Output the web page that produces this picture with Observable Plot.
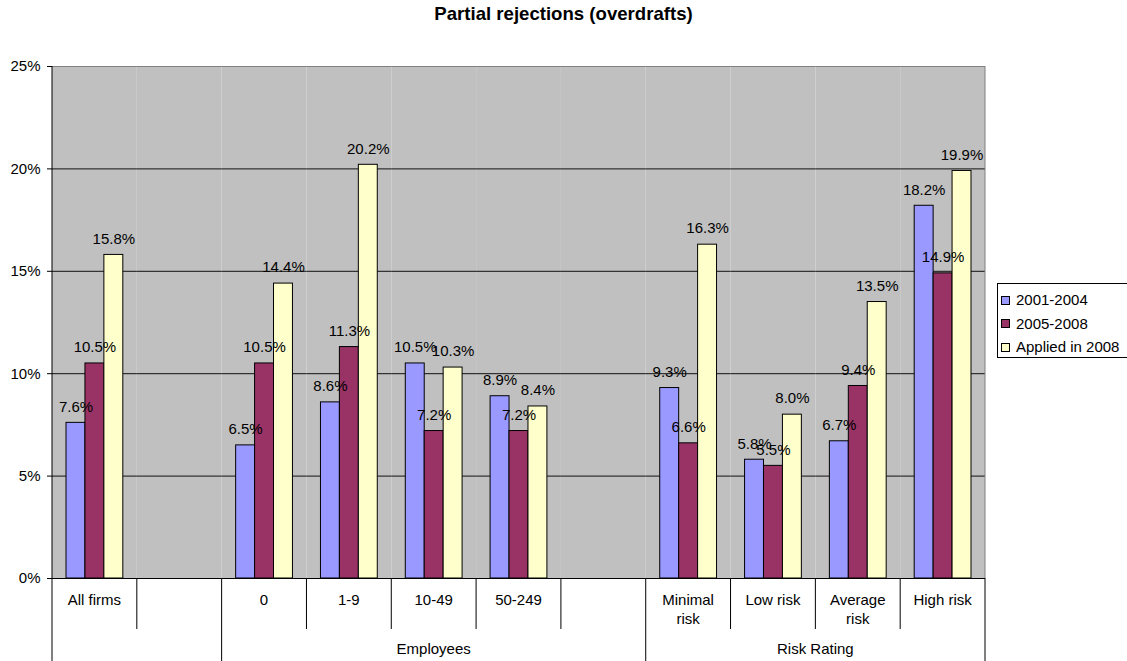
<!DOCTYPE html>
<html><head><meta charset="utf-8">
<script src="https://cdn.jsdelivr.net/npm/d3@7"></script>
<script src="https://cdn.jsdelivr.net/npm/@observablehq/plot@0.6"></script>
<style>
html,body{margin:0;padding:0;background:#fff;overflow:hidden;}
#wrap{position:relative;width:1127px;height:661px;font-family:"Liberation Sans",Arial,sans-serif;color:#000;}
#title{position:absolute;left:0;top:3px;width:1127px;text-align:center;font-weight:bold;font-size:18.6px;line-height:21px;}
#chart{position:absolute;left:0;top:0;}
#legend{position:absolute;left:997px;top:283px;width:150px;height:73px;border:1px solid #000;background:#fff;}
#legend .row{position:absolute;left:3px;height:20px;line-height:20px;font-size:15px;white-space:nowrap;}
#legend .sw{display:inline-block;width:7px;height:7px;border:1px solid #000;margin-right:6px;vertical-align:middle;position:relative;top:-1px;}
</style></head>
<body>
<div id="wrap">
  <div id="chart"></div>
  <div id="title">Partial rejections (overdrafts)</div>
  <div id="legend"></div>
</div>
<script>
// ---- data ----
const categories = ["All firms", "", "0", "1-9", "10-49", "50-249", "", "Minimal\nrisk", "Low risk", "Average\nrisk", "High risk"];
const groupOf = ["", "", "Employees", "Employees", "Employees", "Employees", "Employees", "Risk Rating", "Risk Rating", "Risk Rating", "Risk Rating"];
const series = ["2001-2004", "2005-2008", "Applied in 2008"];
const v2001_2004 = [7.6, null, 6.5, 8.6, 10.5, 8.9, null, 9.3, 5.8, 6.7, 18.2];
const v2005_2008 = [10.5, null, 10.5, 11.3, 7.2, 7.2, null, 6.6, 5.5, 9.4, 14.9];
const vApplied2008 = [15.8, null, 14.4, 20.2, 10.3, 8.4, null, 16.3, 8.0, 13.5, 19.9];
const yTicks = [0, 5, 10, 15, 20, 25];
const colors = ["#9999FF", "#993366", "#FFFFCC"];

const seriesValues = [v2001_2004, v2005_2008, vApplied2008];
const slotIdx = categories.map((_, i) => i);
const rows = [];
seriesValues.forEach((vals, s) => vals.forEach((v, i) => rows.push({slot: i, series: series[s], value: v})));
const labelled = rows.filter(d => d.value != null);

const W = 1127, H = 661;
const plot = Plot.plot({
  width: W, height: H,
  marginLeft: 52, marginRight: 142, marginTop: 66, marginBottom: 83,
  style: {fontFamily: "'Liberation Sans', Arial, sans-serif", fontSize: "15px", background: "transparent"},
  fx: {domain: slotIdx, padding: 0, axis: null, round: false},
  x: {domain: series, paddingInner: 0, paddingOuter: 0.74, axis: null, round: false},
  y: {domain: [0, 25], axis: null},
  color: {domain: series, range: colors},
  marks: [
    Plot.barY(slotIdx, {fx: d => d, y1: 0, y2: 25, fill: "#c0c0c0"}),
    Plot.ruleY([5, 10, 15, 20], {stroke: "#111", strokeWidth: 1}),
    Plot.ruleY([25], {stroke: "#808080", strokeWidth: 1}),
    Plot.barY(rows, {fx: "slot", x: "series", y: "value", fill: "series", stroke: "#000", strokeWidth: 1}),
    Plot.ruleY([0], {stroke: "#000", strokeWidth: 1}),
    Plot.text(labelled, {fx: "slot", x: "series", y: "value", text: d => d.value.toFixed(1) + "%", dy: -16, fontSize: 15, fill: "#000"}),
    Plot.axisY({ticks: yTicks, tickFormat: d => d + "%", tickSize: 5, tickPadding: 7, fontSize: 15, label: null, stroke: "#000"})
  ]
});
document.getElementById("chart").appendChild(plot);

// ---- category axis, built from the plot's scales ----
const fx = plot.scale("fx");
const ys = plot.scale("y");
const bw = fx.bandwidth;
const y0 = ys.apply(0), yTop = ys.apply(25);
const svg = d3.select(plot);
const g = svg.append("g").attr("font-family", "'Liberation Sans', Arial, sans-serif").attr("font-size", 15);
const left = fx.apply(0), right = fx.apply(categories.length - 1) + bw;
// plot area left axis and right border
g.append("line").attr("x1", left).attr("x2", left).attr("y1", yTop).attr("y2", y0).attr("stroke", "#000");
g.append("line").attr("x1", right).attr("x2", right).attr("y1", yTop).attr("y2", y0).attr("stroke", "#808080");
// dividers
for (let i = 0; i <= categories.length; i++) {
  const x = i < categories.length ? fx.apply(i) : right;
  const long = i === 0 || i === categories.length || groupOf[i] !== groupOf[i - 1];
  g.append("line").attr("x1", x).attr("x2", x).attr("y1", y0).attr("y2", long ? H : y0 + 51).attr("stroke", "#000");
}
// category labels
categories.forEach((c, i) => {
  const lines = c.split("\n");
  const t = g.append("text").attr("text-anchor", "middle").attr("fill", "#000");
  lines.forEach((ln, k) => t.append("tspan").attr("x", fx.apply(i) + bw / 2).attr("y", y0 + 22 + k * 19).attr("dy", "0.35em").text(ln));
});
// group labels
const groups = [];
groupOf.forEach((gname, i) => {
  if (i === 0 || gname !== groupOf[i - 1]) groups.push({name: gname, start: i, end: i});
  else groups[groups.length - 1].end = i;
});
groups.forEach(gr => {
  if (!gr.name) return;
  const x = (fx.apply(gr.start) + fx.apply(gr.end) + bw) / 2;
  g.append("text").attr("x", x).attr("y", y0 + 71).attr("dy", "0.35em").attr("text-anchor", "middle").attr("fill", "#000").text(gr.name);
});

// ---- legend ----
const leg = document.getElementById("legend");
series.forEach((s, i) => {
  const r = document.createElement("div");
  r.className = "row";
  r.style.top = (6 + i * 23.5) + "px";
  r.innerHTML = `<span class="sw" style="background:${colors[i]}"></span>${s}`;
  leg.appendChild(r);
});
</script>
</body></html>
